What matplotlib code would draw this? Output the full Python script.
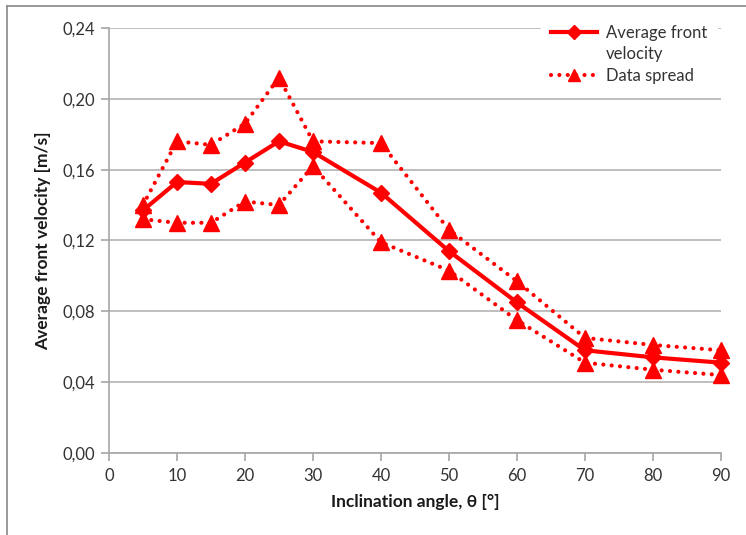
import matplotlib
matplotlib.use("Agg")
import matplotlib.pyplot as plt
from matplotlib.lines import Line2D

plt.rcParams["font.family"] = ["Lato", "DejaVu Sans"]

angle = [5, 10, 15, 20, 25, 30, 40, 50, 60, 70, 80, 90]
avg_velocity = [0.137, 0.153, 0.152, 0.164, 0.176, 0.170, 0.147, 0.114, 0.085, 0.058, 0.054, 0.051]
spread_high = [0.140, 0.176, 0.174, 0.186, 0.212, 0.176, 0.175, 0.126, 0.097, 0.065, 0.061, 0.058]
spread_low = [0.132, 0.130, 0.130, 0.142, 0.140, 0.162, 0.119, 0.103, 0.075, 0.051, 0.047, 0.044]

yticks = [0.00, 0.04, 0.08, 0.12, 0.16, 0.20, 0.24]
xticks = [0, 10, 20, 30, 40, 50, 60, 70, 80, 90]

red = "#ff0000"
grey = "#a6a6a6"
dots = (0, (0.01, 2.0))

fig = plt.figure(figsize=(7.46, 5.35), dpi=100)
ax = fig.add_axes([0.146, 0.1533, 0.8205, 0.7944])

l_avg, = ax.plot(angle, avg_velocity, color=red, lw=3, marker="D", ms=8,
                 zorder=4, clip_on=False)
l_spr, = ax.plot(angle, spread_high, color=red, lw=3, ls=dots, dash_capstyle="round",
                 marker="^", ms=11, zorder=3, clip_on=False)
ax.plot(angle, spread_low, color=red, lw=3, ls=dots, dash_capstyle="round",
        marker="^", ms=11, zorder=3, clip_on=False)

ax.set_xlim(0, 90)
ax.set_ylim(0, 0.24)
ax.set_xticks(xticks)
ax.set_yticks(yticks)
ax.set_yticklabels([f"{v:.2f}".replace(".", ",") for v in yticks])
ax.yaxis.grid(True, color="#b3b3b3", lw=1.2)
ax.set_axisbelow(True)
for s in ["top", "right"]:
    ax.spines[s].set_visible(False)
for s in ["left", "bottom"]:
    ax.spines[s].set_color(grey)
    ax.spines[s].set_linewidth(1.2)
ax.tick_params(axis="both", colors=grey, length=6, width=1.2, labelsize=12,
               labelcolor="#333333")
ax.tick_params(axis="x", pad=5)
ax.tick_params(axis="y", pad=4)

ax.set_xlabel("Inclination angle, θ [°]", fontsize=12.5, fontweight="bold",
              labelpad=7, color="#1a1a1a")
ax.set_ylabel("Average front velocity [m/s]", fontsize=12.5, fontweight="bold",
              labelpad=8, color="#1a1a1a")

# legend: the two-line label keeps its handle on the first line, as in the original
blank = Line2D([], [], color="none")
leg = ax.legend([l_avg, blank, l_spr], ["Average front", "velocity", "Data spread"],
                loc="upper left", bbox_to_anchor=(0.692, 1.05), frameon=True,
                fancybox=False, edgecolor="white", facecolor="white", framealpha=1,
                fontsize=12, handlelength=2.8, handletextpad=0.5, borderpad=0.6,
                labelspacing=0.32, markerscale=0.85)
for t in leg.get_texts():
    t.set_color("#333333")

fig.add_artist(Line2D([7 / 746, 7 / 746], [0, 1 - 6 / 535], color="#888888", lw=1.2,
                      transform=fig.transFigure))
fig.add_artist(Line2D([7 / 746, 1], [1 - 6 / 535, 1 - 6 / 535], color="#888888", lw=1.2,
                      transform=fig.transFigure))

fig.savefig("out.png", dpi=100)
